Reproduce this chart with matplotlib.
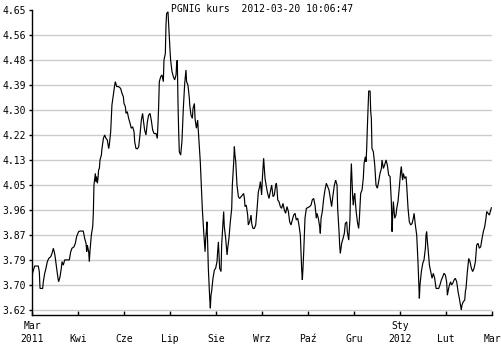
import matplotlib
matplotlib.use("Agg")
import matplotlib.pyplot as plt
import numpy as np

# days since 2011-03-20 and PGNIG price
days = [0.0, 2.1, 5.0, 5.8, 6.4, 8.5, 9.0, 10.1, 11.1, 12.2, 13.3, 14.9, 15.9, 17.0, 18.0, 18.6, 19.6, 20.7,
        21.2, 22.3, 23.3, 23.9, 24.9, 26.0, 27.6, 29.7, 30.8, 31.8, 33.4, 34.5, 35.5, 37.1, 38.2, 40.8, 41.9,
        43.0, 43.5, 44.0, 45.1, 45.6, 46.1, 47.2, 48.3, 48.8, 49.3, 50.4, 50.9, 51.4, 52.0, 52.5, 53.0, 53.6,
        54.1, 55.2, 55.7, 56.8, 57.8, 58.9, 59.9, 61.0, 61.5, 62.6, 63.1, 63.6, 64.7, 65.8, 66.3, 67.4, 68.9,
        70.5, 71.6, 72.7, 73.2, 74.3, 74.8, 75.8, 76.9, 78.0, 79.0, 80.1, 81.2, 81.7, 82.7, 83.8, 84.9, 85.9,
        87.0, 88.0, 88.6, 89.6, 90.7, 91.8, 92.8, 93.9, 94.9, 96.0, 97.1, 98.7, 99.7, 100.3, 100.8, 101.3,
        102.4, 103.4, 104.5, 105.0, 106.1, 106.6, 107.1, 108.2, 109.3, 109.8, 110.3, 111.4, 112.5, 113.5,
        114.6, 115.1, 115.6, 116.2, 116.7, 117.2, 118.3, 119.3, 120.4, 121.5, 122.5, 123.0, 124.1, 125.2,
        125.5, 126.5, 127.6, 128.1, 129.2, 129.7, 130.8, 131.8, 132.9, 133.9, 134.5, 135.5, 136.6, 137.7,
        138.2, 138.7, 139.2, 139.8, 140.3, 141.4, 141.9, 142.4, 142.9, 144.0, 145.1, 146.1, 147.2, 147.7,
        148.3, 149.3, 150.4, 150.9, 152.0, 152.5, 153.0, 154.1, 155.2, 155.7, 156.7, 157.8, 158.9, 159.4,
        160.5, 161.0, 161.5, 162.1, 163.1, 164.2, 165.2, 166.3, 167.4, 168.4, 169.0, 169.5, 170.5, 171.6,
        172.1, 173.2, 174.3, 174.8, 175.8, 176.9, 178.0, 179.0, 180.1, 181.1, 181.7, 182.7, 183.3, 183.8,
        184.3, 184.9, 185.4, 186.5, 187.5, 188.6, 189.6, 190.7, 191.8, 192.8, 193.9, 194.4, 194.9, 195.5,
        196.5, 197.6, 198.6, 199.7, 200.8, 201.8, 202.9, 204.0, 205.0, 206.1, 207.1, 208.2, 209.3, 210.3,
        211.4, 212.4, 213.5, 214.0, 214.6, 215.1, 215.6, 216.2, 217.2, 218.3, 219.3, 220.9, 222.0, 223.0,
        224.1, 225.2, 226.2, 226.8, 227.8, 228.9, 229.4, 230.0, 231.0, 232.1, 233.1, 234.2, 235.3, 236.3,
        237.4, 238.4, 239.5, 240.6, 241.6, 242.7, 243.2, 244.3, 244.8, 245.3, 246.4, 247.5, 248.5,
        249.3, 250.4, 250.9, 252.0, 253.0, 253.6, 254.1, 254.6, 255.2, 255.7, 256.2, 256.8, 257.3, 257.8,
        258.9, 259.9, 260.5, 261.5, 262.6, 263.6, 264.2, 265.2, 265.8, 266.3, 266.8, 267.4, 267.9, 269.0,
        269.5, 270.0, 270.5, 271.6, 272.7, 273.7, 274.8, 275.8, 276.9, 278.0, 278.5, 279.6, 280.6, 281.7,
        282.7, 283.8, 284.9, 285.9, 286.5, 287.0, 287.5, 288.6, 289.6, 290.2, 291.2, 292.3, 293.3, 293.9,
        294.4, 294.9, 295.5, 296.5, 297.6, 298.1, 299.2, 300.2, 301.3, 302.4, 303.4, 304.0, 305.0, 306.1,
        307.1, 307.7, 308.2, 308.7, 309.8, 310.9, 311.9, 313.0, 313.5, 314.0, 314.6, 315.1, 316.2, 317.2,
        318.3, 319.3, 320.4, 321.5, 322.5, 323.6, 324.6, 325.7, 326.8, 327.8, 328.9, 329.9, 330.5, 331.0,
        332.1, 333.1, 333.7, 334.7, 335.8, 336.8, 337.9, 339.0, 340.0, 341.1, 341.6, 342.1, 343.2, 344.3,
        344.8, 345.3, 346.4, 347.5, 348.5, 349.6, 350.6, 351.7, 352.8, 353.8, 354.9, 355.9, 357.0, 358.1,
        359.1, 360.2, 361.2, 361.8, 362.8, 363.9, 365.0, 365.5]

prices = [3.740, 3.771, 3.771, 3.752, 3.694, 3.694, 3.717, 3.746, 3.763, 3.786, 3.797, 3.803, 3.814, 3.832,
          3.814, 3.797, 3.763, 3.729, 3.717, 3.734, 3.763, 3.786, 3.774, 3.792, 3.792, 3.792, 3.820, 3.832,
          3.837, 3.849, 3.872, 3.889, 3.891, 3.891, 3.866, 3.849, 3.820, 3.843, 3.820, 3.786, 3.820, 3.877,
          3.906, 3.952, 4.049, 4.089, 4.061, 4.078, 4.055, 4.072, 4.101, 4.106, 4.135, 4.152, 4.175, 4.209,
          4.221, 4.209, 4.204, 4.175, 4.186, 4.232, 4.278, 4.324, 4.358, 4.392, 4.404, 4.387, 4.387, 4.381,
          4.364, 4.352, 4.329, 4.318, 4.295, 4.301, 4.278, 4.261, 4.244, 4.249, 4.232, 4.198, 4.175, 4.173,
          4.181, 4.221, 4.272, 4.295, 4.272, 4.238, 4.221, 4.266, 4.289, 4.295, 4.272, 4.238, 4.226, 4.226,
          4.209, 4.266, 4.324, 4.404, 4.421, 4.427, 4.404, 4.478, 4.501, 4.598, 4.638, 4.644, 4.553, 4.513,
          4.478, 4.438, 4.421, 4.410, 4.427, 4.467, 4.478, 4.324, 4.232, 4.163, 4.152, 4.198, 4.312, 4.398,
          4.444, 4.404, 4.392, 4.347,
          4.324, 4.289, 4.278, 4.312, 4.329, 4.278, 4.244, 4.272, 4.198, 4.129, 4.072, 3.969, 3.889, 3.820,
          3.866, 3.889, 3.923, 3.843, 3.763, 3.660, 3.626, 3.671, 3.683, 3.729, 3.757, 3.763, 3.786, 3.820,
          3.854, 3.763, 3.752, 3.843, 3.923, 3.958, 3.906, 3.866, 3.809, 3.832, 3.866, 3.923, 3.969, 4.049,
          4.129, 4.181, 4.152, 4.129, 4.049, 4.009, 4.003, 4.009, 4.015, 4.020, 4.003, 3.975, 3.980, 3.946,
          3.912, 3.923, 3.946, 3.917, 3.900, 3.900, 3.912, 3.963, 4.026, 4.043, 4.061, 4.015, 4.072, 4.106,
          4.141, 4.106, 4.072, 4.043, 4.020, 4.003, 4.026, 4.049, 4.009, 4.015, 4.049, 4.055, 4.038, 3.998,
          3.992, 3.975, 3.969, 3.986, 3.963, 3.952, 3.975, 3.958, 3.923, 3.912, 3.929, 3.946, 3.952, 3.929,
          3.935, 3.912, 3.877, 3.820, 3.757, 3.723, 3.763, 3.820, 3.935, 3.969, 3.971, 3.975, 3.980, 3.998,
          4.003, 3.980, 3.935, 3.952, 3.935, 3.906, 3.883, 3.935, 3.958, 4.003, 4.032, 4.055, 4.043, 4.032,
          4.003, 3.975, 4.015, 4.049, 4.066, 4.049, 3.969, 3.889, 3.843, 3.814, 3.849, 3.866, 3.883,
          3.917, 3.923, 3.889, 3.860, 3.935, 4.061, 4.123, 4.072, 4.003, 3.980, 4.009, 4.020, 3.992, 3.963,
          3.923, 3.900, 3.935, 4.020, 4.032, 4.072, 4.123, 4.146, 4.129, 4.175, 4.244, 4.312, 4.372, 4.372,
          4.301, 4.278, 4.175, 4.163, 4.118, 4.049, 4.038, 4.061, 4.089, 4.106, 4.135, 4.106, 4.118, 4.135,
          4.118, 4.083, 4.078, 3.992, 3.889, 3.946, 3.992, 3.935, 3.946, 3.969, 3.992, 4.043, 4.095, 4.112,
          4.083, 4.066, 4.089, 4.072, 4.078, 4.049, 3.969, 3.923, 3.912, 3.917, 3.935, 3.952, 3.912, 3.877,
          3.786, 3.717, 3.660, 3.706, 3.752, 3.780, 3.792, 3.832, 3.877, 3.889, 3.854, 3.832, 3.774, 3.752,
          3.729, 3.746, 3.729, 3.694, 3.694, 3.694, 3.706, 3.723, 3.734, 3.746, 3.740, 3.717, 3.671, 3.683,
          3.706, 3.717, 3.706, 3.711, 3.723, 3.729, 3.717, 3.683, 3.660, 3.631, 3.620, 3.637, 3.649, 3.654,
          3.683, 3.694, 3.752, 3.797, 3.786, 3.763, 3.752, 3.763, 3.786, 3.843, 3.849, 3.832, 3.837, 3.866,
          3.889, 3.906, 3.935, 3.958, 3.952, 3.946, 3.963, 3.971]

y_ticks = list(np.linspace(3.62, 4.65, 13))
y_labels = ["3.62", "3.70", "3.79", "3.87", "3.96", "4.05", "4.13", "4.22", "4.30", "4.39", "4.48", "4.56", "4.65"]
x_ticks = list(np.linspace(0, 366, 11))
x_labels = ["Mar\n2011", "\nKwi", "\nCze", "\nLip", "\nSie", "\nWrz", "\nPaź", "\nGru", "Sty\n2012", "\nLut", "\nMar"]
title = "PGNIG kurs  2012-03-20 10:06:47"

W, H = 501, 346
fig = plt.figure(figsize=(W / 100, H / 100), dpi=100)
ax = fig.add_axes([32 / W, (H - 315) / H, (492 - 32) / W, (315 - 10) / H])
plt.rcParams['font.family'] = ['DejaVu Sans Mono']
font = dict(family='DejaVu Sans Mono', size=7)

ax.plot(days, prices, color='black', lw=0.85, solid_joinstyle='miter')
ax.set_xlim(0, 366)
ax.set_ylim(3.62 - 5 * (1.03 / 300), 4.65)

ax.set_yticks(y_ticks)
ax.set_yticklabels(y_labels, fontdict=font)
ax.set_xticks(x_ticks)
ax.set_xticklabels(x_labels, fontdict=font, linespacing=1.3)

ax.grid(axis='y', color='#cccccc', lw=1.0)
ax.set_axisbelow(True)
ax.get_ygridlines()[-1].set_visible(False)
for s in ['top', 'right']:
    ax.spines[s].set_visible(False)
for s in ['left', 'bottom']:
    ax.spines[s].set_linewidth(1.0)
ax.tick_params(axis='y', direction='out', length=2.5, width=1.0, pad=2)
ax.tick_params(axis='x', direction='in', length=3, width=1.0, pad=4.5)

fig.text(262 / W, 1 - 9.5 / H, title, ha='center', va='center', fontdict=font)

fig.savefig("out.png", dpi=100)
